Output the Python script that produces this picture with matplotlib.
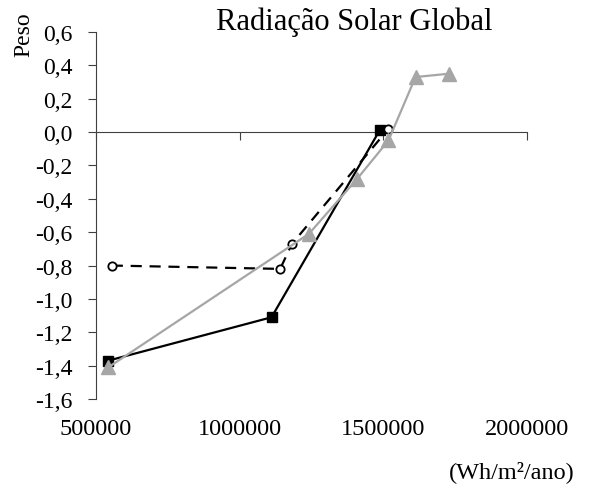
import matplotlib.pyplot as plt

plt.rcParams['font.family'] = ['Liberation Serif', 'DejaVu Serif']

# Pesos por faixa de radiação solar global
x_sq = [543000, 1111000, 1487000]
y_sq = [-1.37, -1.11, 0.01]

x_ci = [555000, 1141000, 1182000, 1518000]
y_ci = [-0.80, -0.82, -0.67, 0.02]

x_tr = [543000, 1241000, 1409000, 1518000, 1612000, 1728000]
y_tr = [-1.41, -0.61, -0.28, -0.05, 0.33, 0.35]

xticks = [500000, 1000000, 1500000, 2000000]
yticks = [0.6, 0.4, 0.2, 0.0, -0.2, -0.4, -0.6, -0.8, -1.0, -1.2, -1.4, -1.6]

fig = plt.figure(figsize=(5.91, 4.89), dpi=100)
ax = fig.add_axes([0.1624, 0.182, 0.7293, 0.7505])

ax.plot(x_sq, y_sq, color='black', lw=1.6, marker='s', ms=7.5, zorder=3)
ax.plot(x_ci, y_ci, color='black', lw=1.6, ls=(0, (5, 3.5)), marker='o', ms=6,
        mfc='white', mec='black', mew=1.3, zorder=4)
ax.plot(x_tr, y_tr, color='#a6a6a6', lw=1.6, marker='^', ms=10, zorder=5)

ax.set_xlim(500000, 2000000)
ax.set_ylim(-1.6, 0.6)
ax.set_yticks(yticks)
ax.set_yticklabels([f'{v:.1f}'.replace('.', ',') for v in yticks], fontsize=17)

# x axis line crosses at y = 0, labels stay at the bottom
ax.spines['top'].set_visible(False)
ax.spines['right'].set_visible(False)
ax.spines['bottom'].set_position(('data', 0))
ax.spines['bottom'].set_color('#404040')
ax.spines['left'].set_color('#404040')
ax.set_xticks(xticks)
ax.tick_params(axis='x', direction='out', length=6, color='#404040', labelbottom=False)
ax.tick_params(axis='y', direction='out', length=6, color='#404040', pad=11)

sec = ax.secondary_xaxis('bottom')
sec.set_xticks(xticks)
sec.set_xticklabels([str(v) for v in xticks], fontsize=17.5)
sec.spines['bottom'].set_visible(False)
sec.tick_params(length=0, pad=14)

fig.text(0.599, 1 - 22 / 489, 'Radiação Solar Global', fontsize=22,
         ha='center', va='center')
fig.text(0.041, 1 - 35 / 489, 'Peso', fontsize=17, rotation=90,
         ha='center', va='center')
fig.text(512 / 591, 1 - 472 / 489, '(Wh/m²/ano)', fontsize=17.5,
         ha='center', va='center')

fig.savefig('out.png', dpi=100)
